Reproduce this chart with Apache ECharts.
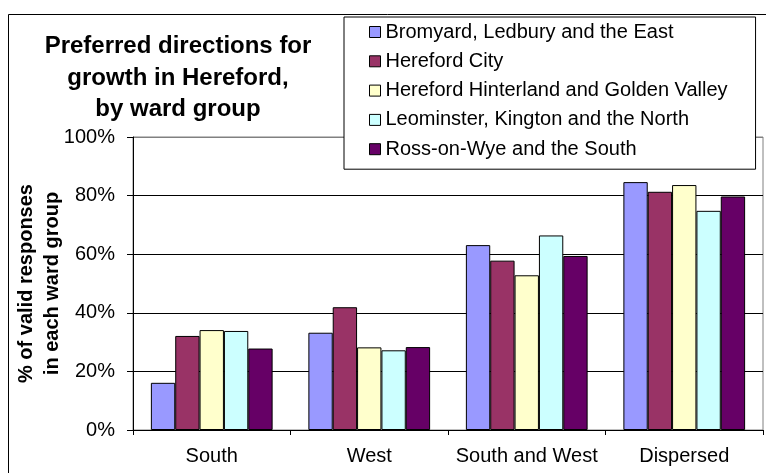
<!DOCTYPE html>
<html>
<head>
<meta charset="utf-8">
<script src="https://cdn.jsdelivr.net/npm/echarts@6/dist/echarts.min.js"></script>
<style>
  html, body { margin: 0; padding: 0; background: #fff; }
  #chart { width: 766px; height: 473px; }
</style>
</head>
<body>
<div id="chart"></div>
<script>
  // 数据
  var categories = ["South", "West", "South and West", "Dispersed"];
  var seriesNames = [
    "Bromyard, Ledbury and the East",
    "Hereford City",
    "Hereford Hinterland and Golden Valley",
    "Leominster, Kington and the North",
    "Ross-on-Wye and the South"
  ];
  var bromyard   = [16.1, 33.2, 63.1, 84.6];
  var herefordCity = [32.1, 41.9, 57.8, 81.3];
  var hinterland = [34.1, 28.2, 52.8, 83.6];
  var leominster = [33.8, 27.2, 66.4, 74.8];
  var ross       = [27.8, 28.3, 59.4, 79.7];
  var yTicks = [0, 20, 40, 60, 80, 100];

  var PALETTE = ["#9999FF", "#993366", "#FFFFCC", "#CCFFFF", "#660066"];
  var values = [bromyard, herefordCity, hinterland, leominster, ross];
  var FONT = "Liberation Sans, Arial, sans-serif";

  var chart = echarts.init(document.getElementById("chart"));
  chart.setOption({
    animation: false,
    color: PALETTE,
    textStyle: { fontFamily: FONT },
    title: {
      text: "Preferred directions for\ngrowth in Hereford,\nby ward group",
      left: 173,
      top: 26,
      textAlign: "center",
      textStyle: { fontSize: 24, fontWeight: "bold", color: "#000", lineHeight: 31.5, fontFamily: FONT }
    },
    legend: {
      orient: "vertical",
      left: 344,
      top: 17,
      padding: [4, 28, 9, 25],
      itemGap: 7.3,
      itemWidth: 11,
      itemHeight: 11,
      icon: "rect",
      backgroundColor: "#fff",
      borderColor: "#000",
      borderWidth: 1,
      borderRadius: 0,
      itemStyle: { borderColor: "#000", borderWidth: 1 },
      textStyle: { fontSize: 20, color: "#000", lineHeight: 22, fontFamily: FONT },
      data: seriesNames
    },
    graphic: [{
      type: "rect",
      silent: true,
      z: -10,
      shape: { x: 8.5, y: 14.5, width: 800, height: 500 },
      style: { fill: "none", stroke: "#000", lineWidth: 1 }
    }],
    grid: {
      left: 133, right: 3, top: 137, bottom: 43,
      outerBoundsMode: "none",
      containLabel: false,
      show: true, borderColor: "#808080", borderWidth: 1, backgroundColor: "transparent"
    },
    xAxis: {
      type: "category",
      data: categories,
      axisLine: { lineStyle: { color: "#000", width: 1 } },
      axisTick: { show: true, length: 5, lineStyle: { color: "#000" } },
      axisLabel: { interval: 0, fontSize: 20, color: "#000", margin: 16, fontFamily: FONT }
    },
    yAxis: {
      type: "value",
      min: yTicks[0],
      max: yTicks[yTicks.length - 1],
      interval: 20,
      name: "% of valid responses\nin each ward group",
      nameLocation: "middle",
      nameRotate: 90,
      nameGap: 68,
      nameMoveOverlap: false,
      nameTextStyle: { fontSize: 20, fontWeight: "bold", color: "#000", lineHeight: 26, fontFamily: FONT },
      axisLine: { show: true, lineStyle: { color: "#000", width: 1 } },
      axisTick: { show: true, length: 6, lineStyle: { color: "#000" } },
      axisLabel: { fontSize: 20, color: "#000", margin: 18, formatter: "{value}%", fontFamily: FONT },
      splitLine: { show: true, lineStyle: { color: ["#000", "#000", "#000", "#000", "#000", "#808080"], width: 1 } }
    },
    series: seriesNames.map(function (name, i) {
      return {
        name: name,
        type: "bar",
        data: values[i],
        barGap: "0%",
        barCategoryGap: "22.7%",
        itemStyle: { borderColor: "#000", borderWidth: 1 }
      };
    })
  });
</script>
</body>
</html>
